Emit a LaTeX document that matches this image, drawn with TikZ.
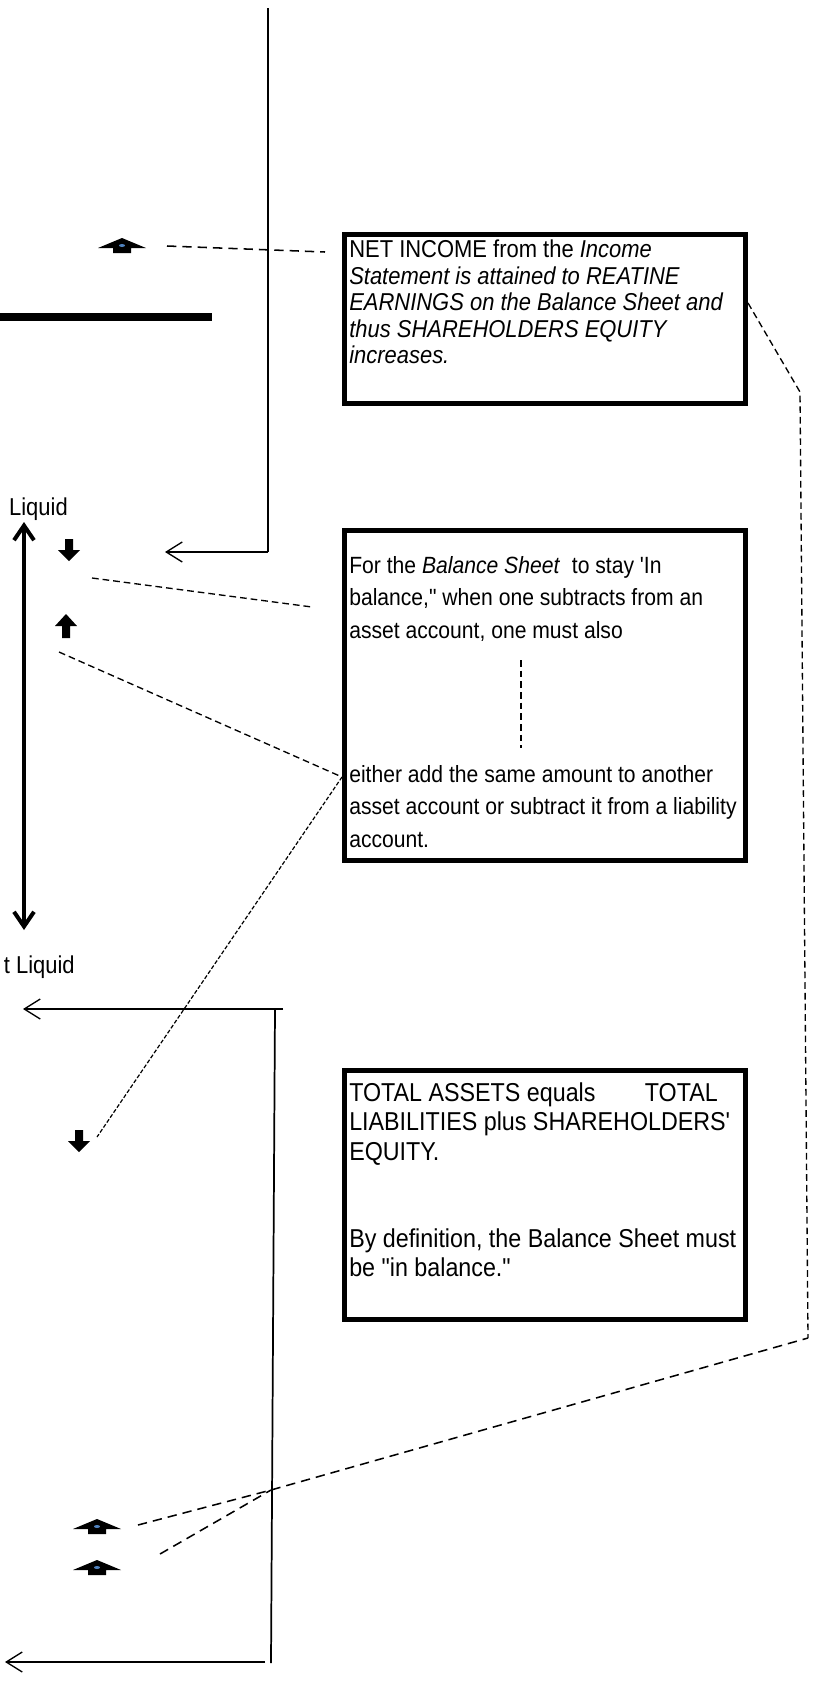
\documentclass[tikz,border=0pt]{standalone}
\usepackage{fontspec}
\setmainfont{Liberation Sans}[Ligatures=TeXOff, FakeStretch=0.9]
\usetikzlibrary{arrows.meta}
\definecolor{dotblue}{HTML}{4F81BD}
\tikzset{
  downblk/.pic={\fill (-4,-11) -- (4,-11) -- (4,0) -- (11,0) -- (0,11) -- (-11,0) -- (-4,0) -- cycle;},
  upblk/.pic={\fill (-4,12) -- (4,12) -- (4,0) -- (11,0) -- (0,-12) -- (-11,0) -- (-4,0) -- cycle;},
  hat/.pic={\fill (-9,7) -- (9,7) -- (9,2) -- (24,2) -- (0,-8) -- (-24,2) -- (-9,2) -- cycle;
            \fill[dotblue] (0,-0.5) ellipse (3 and 1.5);},
  thinline/.style={line width=1.3pt},
  barb/.style={-{Straight Barb[length=12pt,width=15pt,line width=1pt]}},
  box/.style={draw, line width=3.75pt, minimum width=300.75pt, inner sep=0pt},
  txt/.style={anchor=north west, inner sep=0pt, align=left},
  lbl/.style={inner sep=0pt, font=\fontsize{18.3}{21}\selectfont},
  dashA/.style={line width=1.15pt, dash pattern=on 7pt off 4.5pt},
  dashM/.style={line width=1pt, dash pattern=on 5pt off 3pt},
  dashF/.style={line width=0.9pt, dash pattern=on 3pt off 1.5pt}
}
\begin{document}
\begin{tikzpicture}[x=0.75pt,y=-0.75pt]
\useasboundingbox (0,0) rectangle (818,1692);

% boxes
\node[box, minimum height=126.75pt] (box1) at (545,319) {};
\node[box, minimum height=247.5pt] (box2) at (545,695.5) {};
\node[box, minimum height=186.75pt] (box3) at (545,1195) {};

% box texts
\node[txt, font=\fontsize{18.3}{19.8}\selectfont] (t1) at (349,240)
 {NET INCOME from the \textit{Income}\\
  \textit{Statement is attained to REATINE}\\
  \textit{EARNINGS on the Balance Sheet and}\\
  \textit{thus SHAREHOLDERS EQUITY}\\
  \textit{increases.}};
\node[txt, font=\fontsize{17.6}{24.4}\selectfont] (t2a) at (349,556)
 {For the \textit{Balance Sheet}~ to stay 'In\\
  balance," when one subtracts from an\\
  asset account, one must also};
\node[txt, font=\fontsize{17.6}{24.4}\selectfont] (t2b) at (349,765)
 {either add the same amount to another\\
  asset account or subtract it from a liability\\
  account.};
\node[txt, font=\fontsize{19.4}{22.4}\selectfont] (t3) at (349,1082)
 {TOTAL ASSETS equals\hspace{37pt}TOTAL\\
  LIABILITIES plus SHAREHOLDERS'\\
  EQUITY.\\[42.3pt]
  By definition, the Balance Sheet must\\
  be "in balance."};

% labels
\node[lbl, anchor=base east] (liq1) at (68,515) {Liquid};
\node[lbl, anchor=base east] (liq2) at (75,973) {t Liquid};

% coordinates
\coordinate (vtop) at (268,8);
\coordinate (vcorner) at (268,552);
\coordinate (arrA) at (165,552);
\coordinate (lhR) at (283,1009);
\coordinate (lhTip) at (23,1009);
\coordinate (lvTop) at (275,1009);
\coordinate (lvBot) at (271,1663);
\coordinate (bhR) at (265,1662);
\coordinate (bhTip) at (5,1662);
\coordinate (dTop) at (24,522);
\coordinate (dBot) at (24,930);
\coordinate (bar1) at (0,317);
\coordinate (bar2) at (212,317);
\coordinate (d1s) at (167,246);
\coordinate (d1e) at (325,252);
\coordinate (b1r) at (748,303);
\coordinate (rk) at (800,392);
\coordinate (rb) at (808,1338);
\coordinate (d2s) at (92,578);
\coordinate (d2e) at (312,607);
\coordinate (d3s) at (59,652);
\coordinate (b2l) at (342,777);
\coordinate (d3e) at (97,1137);
\coordinate (b2v1) at (521,660);
\coordinate (b2v2) at (521,748);
\coordinate (d4s) at (138,1525);
\coordinate (d5s) at (160,1554);
\coordinate (cross) at (271,1490);

% solid lines and arrows
\draw[thinline] (vtop) -- (vcorner);
\draw[thinline, barb] (vcorner) -- (arrA);
\draw[thinline, barb] (lhR) -- (lhTip);
\draw[thinline] (lvTop) -- (lvBot);
\draw[thinline, barb] (bhR) -- (bhTip);
\draw[line width=3pt, {Straight Barb[length=11pt,width=15pt]}-{Straight Barb[length=11pt,width=15pt]}] (dTop) -- (dBot);
\draw[line width=6pt] (bar1) -- (bar2);

% dashed connectors
\draw[dashA] (d1s) -- (d1e);
\draw[dashM] (b1r) -- (rk) -- (rb);
\draw[dashM] (d2s) -- (d2e);
\draw[dashM] (d3s) -- (b2l);
\draw[dashF] (b2l) -- (d3e);
\draw[dashM] (b2v1) -- (b2v2);
\draw[dashA] (d4s) -- (cross) -- (rb);
\draw[dashA] (d5s) -- (cross);

% block arrows
\pic (h1) at (122,246) {hat};
\pic (h2) at (97,1527) {hat};
\pic (h3) at (97,1568) {hat};
\pic (da1) at (69,550) {downblk};
\pic (ua1) at (66,626) {upblk};
\pic (da2) at (79,1141) {downblk};
\end{tikzpicture}
\end{document}
